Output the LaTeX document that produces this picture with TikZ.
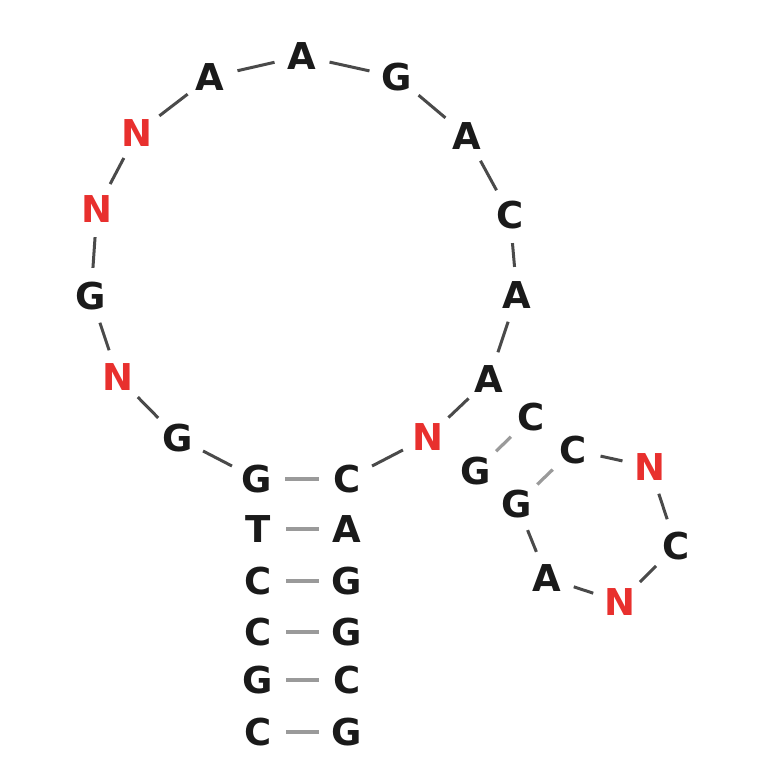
\documentclass[tikz,border=0pt]{standalone}
\usepackage{fontspec}
\setmainfont{DejaVu Sans}
\definecolor{nred}{HTML}{E8302E}
\definecolor{bb}{HTML}{1A1A1A}
\definecolor{lnk}{HTML}{4A4A4A}
\definecolor{pr}{HTML}{9A9A9A}
\begin{document}
\begin{tikzpicture}[x=1pt,y=-1pt,
  base/.style={circle,inner sep=0pt,minimum size=56pt,text=bb,font=\fontsize{37}{37}\selectfont\bfseries},
  rn/.style={base,text=nred},
  bond/.style={draw=lnk,line width=3pt},
  pair/.style={draw=pr,line width=3.2pt}]
\useasboundingbox (0,0) rectangle (764,764);
% main loop
\node[base] (a1) at (210,77) {A};
\node[base] (a2) at (302,56) {A};
\node[base] (g3) at (397,77) {G};
\node[base] (a4) at (467,136) {A};
\node[base] (c5) at (510,215) {C};
\node[base] (a6) at (517,295) {A};
\node[base] (a7) at (489,379) {A};
\node[rn]   (n8) at (428,437) {N};
\node[base] (c9) at (347,479) {C};
\node[base] (g0) at (257,479) {G};
\node[base] (g1) at (178,438) {G};
\node[rn]   (n2) at (118,377) {N};
\node[base] (g2) at (91,296) {G};
\node[rn]   (n3) at (97,209) {N};
\node[rn]   (n4) at (137,133) {N};
% stem
\node[base] (s1l) at (258,529) {T};
\node[base] (s1r) at (347,529) {A};
\node[base] (s2l) at (258,581) {C};
\node[base] (s2r) at (347,581) {G};
\node[base] (s3l) at (258,632) {C};
\node[base] (s3r) at (347,632) {G};
\node[base] (s4l) at (258,680) {G};
\node[base] (s4r) at (347,680) {C};
\node[base] (s5l) at (258,732) {C};
\node[base] (s5r) at (347,732) {G};
% small hairpin
\node[base] (h1) at (531,417) {C};
\node[base] (h2) at (476,471) {G};
\node[base] (h3) at (573,450) {C};
\node[base] (h4) at (517,504) {G};
\node[rn]   (h5) at (650,467) {N};
\node[base] (h6) at (676,546) {C};
\node[rn]   (h7) at (620,602) {N};
\node[base] (h8) at (547,578) {A};
% loop bonds
\draw[bond] (a1)--(a2) (a2)--(g3) (g3)--(a4) (a4)--(c5) (c5)--(a6) (a6)--(a7)
  (a7)--(n8) (n8)--(c9) (g0)--(g1) (g1)--(n2) (n2)--(g2) (g2)--(n3) (n3)--(n4) (n4)--(a1);
\draw[bond] (h3)--(h5) (h5)--(h6) (h6)--(h7) (h7)--(h8) (h8)--(h4);
% pairs
\draw[pair] (g0)--(c9) (s1l)--(s1r) (s2l)--(s2r) (s3l)--(s3r) (s4l)--(s4r) (s5l)--(s5r);
\draw[pair] (h1)--(h2) (h3)--(h4);
\end{tikzpicture}
\end{document}
